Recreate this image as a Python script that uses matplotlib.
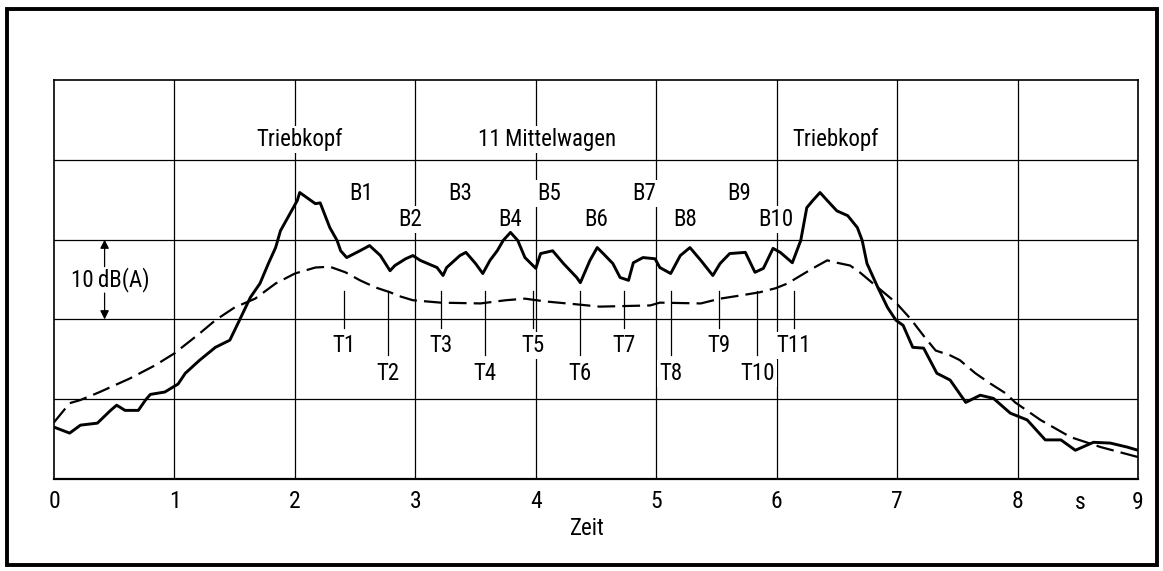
import numpy as np
import matplotlib.pyplot as plt
from matplotlib.patches import Rectangle

plt.rcParams['font.family'] = ['Roboto Condensed', 'DejaVu Sans Condensed', 'Liberation Sans Narrow', 'Roboto', 'DejaVu Sans']
plt.rcParams['font.stretch'] = 'condensed'

# solid curve: Schalldruckpegel (t in s, L in dB, relative)
t_solid = [0.00, 0.13, 0.22, 0.36, 0.47, 0.52, 0.59, 0.70, 0.76, 0.80, 0.92, 1.03, 1.09,
           1.21, 1.34, 1.46, 1.54, 1.63, 1.71, 1.78, 1.84, 1.88, 2.02, 2.04, 2.17, 2.21,
           2.29, 2.35, 2.38, 2.43, 2.54, 2.62, 2.71, 2.79, 2.83, 2.92, 2.98, 3.04, 3.18,
           3.23, 3.26, 3.37, 3.42, 3.50, 3.56, 3.62, 3.68, 3.73, 3.79, 3.85, 3.91, 4.00,
           4.04, 4.14, 4.23, 4.34, 4.37, 4.45, 4.51, 4.56, 4.64, 4.70, 4.77, 4.81, 4.89,
           4.99, 5.03, 5.12, 5.20, 5.28, 5.37, 5.47, 5.53, 5.61, 5.74, 5.82, 5.89, 5.97,
           6.03, 6.13, 6.20, 6.25, 6.30, 6.36, 6.42, 6.50, 6.59, 6.67, 6.71, 6.75, 6.84,
           6.92, 6.99, 7.05, 7.13, 7.22, 7.33, 7.44, 7.57, 7.69, 7.80, 7.94, 8.08, 8.23,
           8.36, 8.48, 8.63, 8.77, 8.91, 9.00]
L_solid = [6.5, 5.75, 6.75, 7.0, 8.6, 9.25, 8.6, 8.6, 9.9, 10.6, 10.9, 11.9, 13.25,
           14.9, 16.5, 17.4, 19.9, 22.75, 24.5, 27.0, 29.0, 31.1, 34.9, 35.9, 34.5, 34.6,
           31.5, 29.9, 28.6, 27.75, 28.6, 29.25, 28.0, 26.1, 26.75, 27.6, 28.0, 27.4, 26.5,
           25.5, 26.5, 28.0, 28.4, 27.0, 25.75, 27.4, 28.6, 29.9, 30.9, 29.9, 27.75, 26.4,
           28.25, 28.6, 27.0, 25.25, 24.6, 27.4, 29.0, 28.25, 27.0, 25.25, 24.9, 27.1, 27.75,
           27.6, 26.5, 25.75, 28.0, 29.0, 27.4, 25.5, 27.0, 28.25, 28.4, 25.9, 26.4, 28.9,
           28.4, 27.1, 29.9, 34.0, 34.9, 35.9, 34.9, 33.6, 33.0, 31.5, 29.9, 27.0, 24.0,
           21.5, 19.9, 19.25, 16.5, 16.4, 13.25, 12.4, 9.6, 10.5, 10.1, 8.25, 7.4, 4.9,
           4.9, 3.6, 4.6, 4.5, 4.0, 3.6]

# dashed curve
t_dash = [0.00, 0.13, 0.22, 0.38, 0.63, 0.84, 1.00, 1.21, 1.34, 1.50, 1.67, 1.84, 2.00,
          2.17, 2.29, 2.42, 2.54, 2.67, 2.79, 2.87, 2.98, 3.21, 3.54, 3.75, 3.91, 4.08,
          4.33, 4.53, 4.95, 5.03, 5.37, 5.53, 5.70, 5.86, 5.99, 6.09, 6.20, 6.30, 6.42,
          6.50, 6.61, 6.69, 6.84, 6.99, 7.11, 7.23, 7.32, 7.44, 7.52, 7.65, 7.77, 7.90,
          7.98, 8.19, 8.44, 8.69, 9.00]
L_dash = [7.1, 9.5, 9.9, 10.9, 12.6, 14.25, 15.75, 18.25, 19.9, 21.5, 22.6, 24.5, 25.75,
          26.5, 26.6, 25.9, 24.9, 24.0, 23.4, 22.9, 22.4, 22.1, 22.0, 22.4, 22.6, 22.25,
          21.9, 21.6, 21.75, 22.1, 22.0, 22.6, 23.0, 23.4, 23.9, 24.5, 25.5, 26.4, 27.4,
          27.1, 26.75, 25.9, 24.0, 22.1, 20.1, 17.75, 16.1, 15.5, 14.9, 13.25, 12.0, 10.75,
          9.6, 7.4, 5.25, 4.0, 2.75]

# Drehgestelle B1..B10 and Wagenuebergaenge T1..T11
b_labels = ["B1", "B2", "B3", "B4", "B5", "B6", "B7", "B8", "B9", "B10"]
b_pos = [2.55, 2.96, 3.37, 3.79, 4.11, 4.50, 4.90, 5.24, 5.69, 5.99]
t_labels = ["T1", "T2", "T3", "T4", "T5", "T6", "T7", "T8", "T9", "T10", "T11"]
t_pos = [2.41, 2.77, 3.21, 3.58, 3.98, 4.37, 4.73, 5.12, 5.52, 5.84, 6.14]

x_ticks = [0, 1, 2, 3, 4, 5, 6, 7, 8, 9]
x_ticklabels = ["0", "1", "2", "3", "4", "5", "6", "7", "8", ""]

fig = plt.figure(figsize=(11.63, 5.71), dpi=100)
ax = fig.add_axes([54 / 1163, 1 - 479 / 571, (1138 - 54) / 1163, (479 - 80) / 571])
ax.set_xlim(0, 9)
ax.set_ylim(0, 50)

for x in range(1, 9):
    ax.axvline(x, color="black", lw=0.9, zorder=1)
for y in [10, 20, 30, 40]:
    ax.axhline(y, color="black", lw=0.9, zorder=1)
for s in ax.spines.values():
    s.set_linewidth(1.2)
ax.spines["bottom"].set_linewidth(1.6)

ax.plot(t_solid, L_solid, color="black", lw=2.1, zorder=4)
ax.plot(t_dash, L_dash, color="black", lw=1.6, ls=(0, (8, 3.2)), zorder=4)

fs = 16.5
ax.set_xticks(x_ticks)
ax.set_xticklabels(x_ticklabels, fontsize=17)
ax.set_yticks([])
ax.tick_params(axis="x", length=0, pad=8)
ax.text(9, -1.45, "9", fontsize=17, ha="center", va="top", clip_on=False)
ax.text(8.52, -1.45, "s", fontsize=17, ha="center", va="top", clip_on=False)
ax.text(4.43, -4.7, "Zeit", fontsize=fs, ha="center", va="top", clip_on=False)

box = dict(facecolor="white", edgecolor="none", pad=1.5)
ax.text(2.04, 42.5, "Triebkopf", fontsize=fs, ha="center", va="center", bbox=box, zorder=3)
ax.text(4.09, 42.5, "11\u2009Mittelwagen", fontsize=fs, ha="center", va="center", bbox=box, zorder=3)
ax.text(6.49, 42.5, "Triebkopf", fontsize=fs, ha="center", va="center", bbox=box, zorder=3)

for i, (lab, x) in enumerate(zip(b_labels, b_pos)):
    y = 35.75 if i % 2 == 0 else 32.5
    ax.text(x, y, lab, fontsize=fs, ha="center", va="center", bbox=box, zorder=3)

for i, (lab, x) in enumerate(zip(t_labels, t_pos)):
    if i % 2 == 0:
        y0, yt = 18.9, 16.75
    else:
        y0, yt = 15.5, 13.25
    ax.plot([x, x], [23.6, y0], color="black", lw=0.9, zorder=3)
    ax.text(x, yt, lab, fontsize=fs, ha="center", va="center", bbox=box, zorder=3)

# 10 dB(A) scale mark
ax.text(0.465, 25, "10\u2009dB(A)", fontsize=fs, ha="center", va="center", bbox=box, zorder=3)
arrow = dict(arrowstyle="-|>", color="black", lw=0.9, mutation_scale=13, shrinkA=0, shrinkB=0)
ax.annotate("", xy=(0.42, 30), xytext=(0.42, 26.6), arrowprops=arrow)
ax.annotate("", xy=(0.42, 20), xytext=(0.42, 23.3), arrowprops=arrow)

fig.patches.append(Rectangle((6.5 / 1163, 1 - 565 / 571), (1157 - 6.5) / 1163, (565 - 8.5) / 571,
                             transform=fig.transFigure, fill=False, edgecolor="black", lw=2.8))

plt.savefig("out.png", dpi=100)
